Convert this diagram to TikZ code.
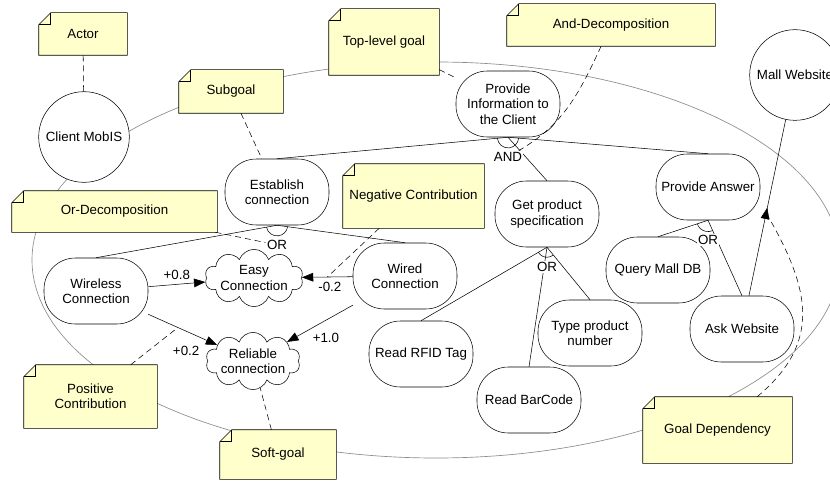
\documentclass[tikz,border=0pt]{standalone}
\usepackage{fontspec}
\setmainfont{Liberation Sans}
\usepackage{tikz}
\usetikzlibrary{arrows.meta,positioning,shapes.symbols,decorations.markings}
\pgfdeclarelayer{back}
\pgfdeclarelayer{notes}
\pgfsetlayers{back,notes,main}
\definecolor{notefill}{RGB}{255,255,204}

\begin{document}
\begin{tikzpicture}[x=0.75pt, y=-0.75pt, font=\fontsize{10}{11.5}\selectfont, line width=0.6pt,
  goal/.style={draw, rounded corners=23.5pt, fill=white, align=center, minimum width=78pt, minimum height=49.5pt, inner sep=1pt},
  soft/.style={draw, cloud, cloud puffs=10, cloud puff arc=140, cloud ignores aspect, fill=white, align=center, minimum width=67pt, minimum height=43pt, inner sep=0pt},
  actor/.style={draw, circle, fill=white, minimum size=68pt, inner sep=0pt},
  note/.style={align=center, inner sep=2pt},
  notebox/.style={draw, fill=notefill},
  gate/.style={fill=white, inner sep=1pt},
  contrib/.style={-{Triangle[length=8.5pt,width=6.5pt]}},
  hint/.style={dash pattern=on 4.5pt off 3pt},
  bound/.style={draw=black!45, line width=0.5pt},
  dep/.style={decoration={markings, mark=at position 0.5 with {\arrow{Triangle[length=8.5pt,width=6.5pt]}}}, postaction={decorate}}]
\useasboundingbox (0,0) rectangle (830,481);
\clip (0,0) rectangle (830,481);
% actor boundary
\begin{pgfonlayer}{back}
\draw[bound] (436,260) ellipse [x radius=303pt, y radius=148.5pt];
\end{pgfonlayer}
% actors
\node[actor] (client) at (84,137) {Client MobIS};
\node[actor] (mall) at (795,75) {Mall Website};
% goals
\node[goal] (info) at (508,104) {Provide\\Information to\\the Client};
\node[goal] (estab) at (277,192) {Establish\\connection};
\node[goal] (spec) at (547,214) {Get product\\specification};
\node[goal] (answer) at (708,187) {Provide Answer};
\node[goal] (wless) at (96,291) {Wireless\\Connection};
\node[goal] (wired) at (405,276) {Wired\\Connection};
\node[goal] (rfid) at (421,354) {Read RFID Tag};
\node[goal] (barcode) at (529,400) {Read BarCode};
\node[goal] (typenum) at (590,333) {Type product\\number};
\node[goal] (querydb) at (658,270) {Query Mall DB};
\node[goal] (askweb) at (742,329) {Ask Website};
% soft-goals
\node[soft] (easy) at (254,278) {Easy\\Connection};
\node[soft] (reliable) at (253,361) {Reliable\\connection};
% notes
\node[note, minimum width=66pt, minimum height=31.5pt] (nactor) at (83,34) {Actor};
\node[note, minimum width=78pt, minimum height=32.25pt] (nsub) at (231,91.5) {Subgoal};
\node[note, minimum width=82.5pt, minimum height=49.5pt] (ntop) at (384,42) {Top-level goal};
\node[note, minimum width=156pt, minimum height=31.5pt] (nand) at (611,25) {And-Decomposition};
\node[note, minimum width=153.75pt, minimum height=30.75pt] (nor) at (114.5,211.5) {Or-Decomposition};
\node[note, minimum width=105.75pt, minimum height=48pt] (nneg) at (413.5,196) {Negative Contribution};
\node[note, minimum width=99.75pt, minimum height=47.25pt] (npos) at (90.5,396.5) {Positive\\Contribution};
\node[note, minimum width=87pt, minimum height=36.75pt] (nsoft) at (278,454.5) {Soft-goal};
\node[note, minimum width=111.75pt, minimum height=49.5pt] (ngdep) at (717.5,430) {Goal Dependency};
\begin{pgfonlayer}{notes}
\foreach \n in {nactor,nsub,ntop,nand,nor,nneg,npos,nsoft,ngdep}{
  \draw[notebox] ([xshift=9pt]\n.north west) -- (\n.north east) -- (\n.south east)
    -- (\n.south west) -- ([yshift=-9pt]\n.north west) -- cycle;
  \draw ([xshift=9pt]\n.north west) -- ([shift={(9pt,-9pt)}]\n.north west) -- ([yshift=-9pt]\n.north west);
}
\end{pgfonlayer}
% decompositions
\draw (info.south) -- (estab.north);
\draw (info.south) -- (spec.north);
\draw (info.south) -- (answer.north);
\draw (info.south) ++(185:8pt) arc[start angle=185, end angle=355, radius=8pt];
\node[gate, below=10pt of info.south] (and) {AND};
\draw (estab.south) -- (wless.north);
\draw (estab.south) -- (wired.north);
\draw (estab.south) ++(190:8pt) arc[start angle=190, end angle=352, radius=8pt];
\node[gate, below=10pt of estab.south] (or1) {OR};
\draw (spec.south) -- (rfid.north);
\draw (spec.south) -- (barcode.north);
\draw (spec.south) -- (typenum.north);
\draw (spec.south) ++(210:7.5pt) arc[start angle=210, end angle=308, radius=7.5pt];
\node[gate, below=10pt of spec.south] (or2) {OR};
\draw (answer.south) -- (querydb.north);
\draw (answer.south) -- (askweb.north);
\draw (answer.south) ++(199:8.5pt) arc[start angle=199, end angle=294, radius=8.5pt];
\node[gate, below=10pt of answer.south] (or3) {OR};
% contributions
\draw[contrib] (wless) -- node[above] (c1) {+0.8} (easy);
\draw[contrib] (wless) -- coordinate[pos=0.43] (c2m) node[pos=0.55, below=8pt] (c2) {+0.2} (reliable);
\draw[contrib] (wired) -- coordinate[pos=0.5] (c3m) node[pos=0.45, below] (c3) {-0.2} (easy);
\draw[contrib] (wired) -- node[pos=0.64, below right=0pt and -2pt] (c4) {+1.0} (reliable);
% dependency
\draw[dep] (askweb) -- coordinate[pos=0.47] (depm) (mall);
% note links
\draw[hint] (nactor) -- (client);
\draw[hint] (nsub) -- (estab);
\draw[hint] (ntop) -- (info);
\draw[hint] (nand) to[out=-115, in=30] (and);
\draw[hint] (nor) -- (or1);
\draw[hint] (nneg) -- (c3m);
\draw[hint] (npos) -- (c2m);
\draw[hint] (nsoft) -- (reliable);
\draw[hint] (ngdep) to[out=40, in=-60, looseness=1.2] (depm);
\end{tikzpicture}
\end{document}
